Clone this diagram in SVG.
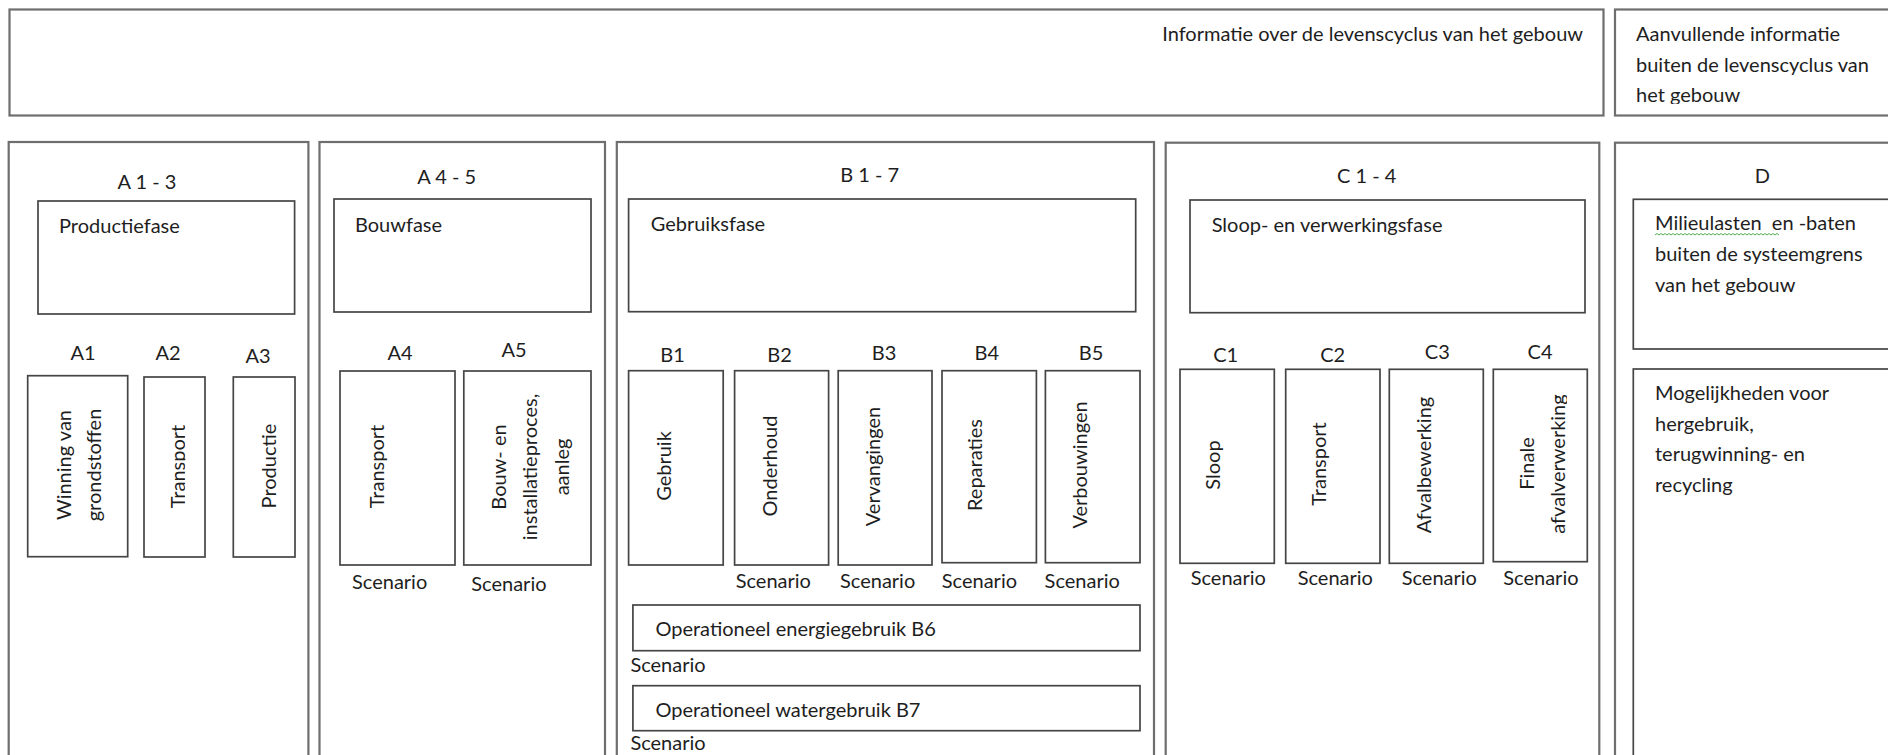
<svg xmlns="http://www.w3.org/2000/svg" width="1888" height="755" viewBox="0 0 1888 755">
<style>
  .outer { fill: #ffffff; stroke: #6e6e6e; stroke-width: 2.2; }
  .box { fill: #ffffff; stroke: #454545; stroke-width: 1.7; }
  text { font-family: Lato, "Open Sans", "Liberation Sans", sans-serif; font-size: 20px; fill: #1e1e1e; }
  .mid { text-anchor: middle; }
  .squiggle { fill: none; stroke: #4caf50; stroke-width: 1; }
</style>
<defs>
  <clipPath id="clipA2"><rect x="0" y="0" width="185.3" height="755"/></clipPath>
  <clipPath id="clipA3"><rect x="0" y="0" width="277" height="755"/></clipPath>
  <clipPath id="clipC4"><rect x="0" y="0" width="1567" height="755"/></clipPath>
  <clipPath id="clipTR"><rect x="0" y="0" width="1888" height="104"/></clipPath>
</defs>
<rect x="0" y="0" width="1888" height="755" fill="#ffffff"/>

<g id="connectors"></g>

<g id="header-lifecycle">
  <rect class="outer" x="9.5" y="9.5" width="1594" height="106"/>
  <text x="1583" y="40.7" text-anchor="end">Informatie over de levenscyclus van het gebouw</text>
</g>

<g id="header-additional">
  <rect class="outer" x="1615" y="9.5" width="300" height="106"/>
  <g clip-path="url(#clipTR)">
    <text x="1636" y="40.7">Aanvullende informatie</text>
    <text x="1636" y="71.5">buiten de levenscyclus van</text>
    <text x="1636" y="102">het gebouw</text>
  </g>
</g>

<g id="stage-A1-3">
  <rect class="outer" x="8.7" y="142" width="299.7" height="640"/>
  <text class="mid" x="147" y="188.5">A 1 - 3</text>
  <rect class="box" x="38" y="201" width="256.6" height="113"/>
  <text x="59" y="233">Productiefase</text>
</g>
<g id="A1">
  <text class="mid" x="83" y="360">A1</text>
  <rect class="box" x="27.7" y="375.7" width="100" height="181"/>
  <text class="mid" transform="translate(70.5,465) rotate(-90)">Winning van</text>
  <text class="mid" transform="translate(101,465) rotate(-90)">grondstoffen</text>
</g>
<g id="A2">
  <text class="mid" x="168" y="360">A2</text>
  <rect class="box" x="144" y="377" width="61" height="180"/>
  <g clip-path="url(#clipA2)">
    <text class="mid" transform="translate(185,466.5) rotate(-90)">Transport</text>
  </g>
</g>
<g id="A3">
  <text class="mid" x="258" y="363">A3</text>
  <rect class="box" x="233.3" y="377" width="61.7" height="180"/>
  <g clip-path="url(#clipA3)">
    <text class="mid" transform="translate(276,466) rotate(-90)">Productie</text>
  </g>
</g>

<g id="stage-A4-5">
  <rect class="outer" x="319.5" y="142" width="285.5" height="640"/>
  <text class="mid" x="446.8" y="183.5">A 4 - 5</text>
  <rect class="box" x="334" y="199" width="257" height="113"/>
  <text x="355" y="232">Bouwfase</text>
</g>
<g id="A4">
  <text class="mid" x="400" y="360">A4</text>
  <rect class="box" x="340" y="371" width="115" height="194"/>
  <text class="mid" transform="translate(384,466.5) rotate(-90)">Transport</text>
  <text x="352" y="588.5">Scenario</text>
</g>
<g id="A5">
  <text class="mid" x="514" y="357">A5</text>
  <rect class="box" x="463.8" y="371" width="127.2" height="194"/>
  <text class="mid" transform="translate(505.5,467) rotate(-90)">Bouw- en</text>
  <text class="mid" transform="translate(537,467) rotate(-90)">installatieproces,</text>
  <text class="mid" transform="translate(568.5,467) rotate(-90)">aanleg</text>
  <text x="471.3" y="591">Scenario</text>
</g>

<g id="stage-B1-7">
  <rect class="outer" x="616.8" y="142" width="537.2" height="640"/>
  <text class="mid" x="869.6" y="182">B 1 - 7</text>
  <rect class="box" x="628.6" y="199" width="507.1" height="112.7"/>
  <text x="650.7" y="230.7">Gebruiksfase</text>
</g>
<g id="B1">
  <text class="mid" x="672.5" y="361.7">B1</text>
  <rect class="box" x="628.6" y="370.7" width="94.6" height="194.3"/>
  <text class="mid" transform="translate(671,466) rotate(-90)">Gebruik</text>
</g>
<g id="B2">
  <text class="mid" x="779.6" y="361.7">B2</text>
  <rect class="box" x="734.6" y="370.7" width="94" height="194.3"/>
  <text class="mid" transform="translate(777,466) rotate(-90)">Onderhoud</text>
  <text x="735.7" y="588">Scenario</text>
</g>
<g id="B3">
  <text class="mid" x="884" y="360">B3</text>
  <rect class="box" x="838.2" y="370.7" width="93.8" height="194.3"/>
  <text class="mid" transform="translate(879.5,466.5) rotate(-90)">Vervangingen</text>
  <text x="840" y="588">Scenario</text>
</g>
<g id="B4">
  <text class="mid" x="986.8" y="360">B4</text>
  <rect class="box" x="942" y="370.7" width="94.4" height="192"/>
  <text class="mid" transform="translate(982,465) rotate(-90)">Reparaties</text>
  <text x="941.8" y="588">Scenario</text>
</g>
<g id="B5">
  <text class="mid" x="1091" y="360">B5</text>
  <rect class="box" x="1045.4" y="370.7" width="94.6" height="192"/>
  <text class="mid" transform="translate(1086.5,465) rotate(-90)">Verbouwingen</text>
  <text x="1044.6" y="588">Scenario</text>
</g>
<g id="B6">
  <rect class="box" x="632.9" y="605" width="507.1" height="45.7"/>
  <text x="655.4" y="636">Operationeel energiegebruik B6</text>
  <text x="630.4" y="671.7">Scenario</text>
</g>
<g id="B7">
  <rect class="box" x="632.9" y="685.7" width="507.1" height="45"/>
  <text x="655.4" y="716.7">Operationeel watergebruik B7</text>
  <text x="630.4" y="750">Scenario</text>
</g>

<g id="stage-C1-4">
  <rect class="outer" x="1165.7" y="142.7" width="433.6" height="640"/>
  <text class="mid" x="1366.7" y="182.7">C 1 - 4</text>
  <rect class="box" x="1190" y="200" width="395" height="112.7"/>
  <text x="1211.7" y="231.7">Sloop- en verwerkingsfase</text>
</g>
<g id="C1">
  <text class="mid" x="1225.7" y="361.7">C1</text>
  <rect class="box" x="1180" y="369.3" width="94.3" height="194"/>
  <text class="mid" transform="translate(1219.5,465) rotate(-90)">Sloop</text>
  <text x="1190.7" y="585">Scenario</text>
</g>
<g id="C2">
  <text class="mid" x="1332.7" y="361.7">C2</text>
  <rect class="box" x="1285.7" y="369.3" width="94.3" height="194"/>
  <text class="mid" transform="translate(1326,464) rotate(-90)">Transport</text>
  <text x="1297.7" y="585">Scenario</text>
</g>
<g id="C3">
  <text class="mid" x="1437.3" y="359.3">C3</text>
  <rect class="box" x="1389.3" y="369.3" width="94" height="194"/>
  <text class="mid" transform="translate(1431,465) rotate(-90)">Afvalbewerking</text>
  <text x="1401.7" y="585">Scenario</text>
</g>
<g id="C4">
  <text class="mid" x="1540" y="359.3">C4</text>
  <rect class="box" x="1493.3" y="369.3" width="94" height="192.4"/>
  <text class="mid" transform="translate(1534,463.5) rotate(-90)">Finale</text>
  <g clip-path="url(#clipC4)">
    <text class="mid" transform="translate(1565,464) rotate(-90)">afvalverwerking</text>
  </g>
  <text x="1503.3" y="585">Scenario</text>
</g>

<g id="stage-D">
  <rect class="outer" x="1615" y="142.7" width="300" height="640"/>
  <text class="mid" x="1762.3" y="182.7">D</text>
</g>
<g id="D-loads">
  <rect class="box" x="1633.3" y="199.3" width="300" height="149.7"/>
  <text x="1655" y="230" xml:space="preserve">Milieulasten  en -baten</text>
  <path class="squiggle" d="M1655 235 l2 -1.5 l2 1.5 l2 -1.5 l2 1.5 l2 -1.5 l2 1.5 l2 -1.5 l2 1.5 l2 -1.5 l2 1.5 l2 -1.5 l2 1.5 l2 -1.5 l2 1.5 l2 -1.5 l2 1.5 l2 -1.5 l2 1.5 l2 -1.5 l2 1.5 l2 -1.5 l2 1.5 l2 -1.5 l2 1.5 l2 -1.5 l2 1.5 l2 -1.5 l2 1.5 l2 -1.5 l2 1.5 l2 -1.5 l2 1.5 l2 -1.5 l2 1.5 l2 -1.5 l2 1.5 l2 -1.5 l2 1.5 l2 -1.5 l2 1.5 l2 -1.5 l2 1.5 l2 -1.5 l2 1.5 l2 -1.5 l2 1.5 l2 -1.5 l2 1.5 l2 -1.5 l2 1.5 l2 -1.5 l2 1.5 l2 -1.5 l2 1.5 l2 -1.5 l2 1.5 l2 -1.5 l2 1.5 l2 -1.5 l2 1.5 l2 -1.5 l2 1.5"/>
  <text x="1655" y="261">buiten de systeemgrens</text>
  <text x="1655" y="292">van het gebouw</text>
</g>
<g id="D-reuse">
  <rect class="box" x="1633.3" y="369" width="300" height="420"/>
  <text x="1655" y="400">Mogelijkheden voor</text>
  <text x="1655" y="430.5">hergebruik,</text>
  <text x="1655" y="461">terugwinning- en</text>
  <text x="1655" y="491.5">recycling</text>
</g>
</svg>
